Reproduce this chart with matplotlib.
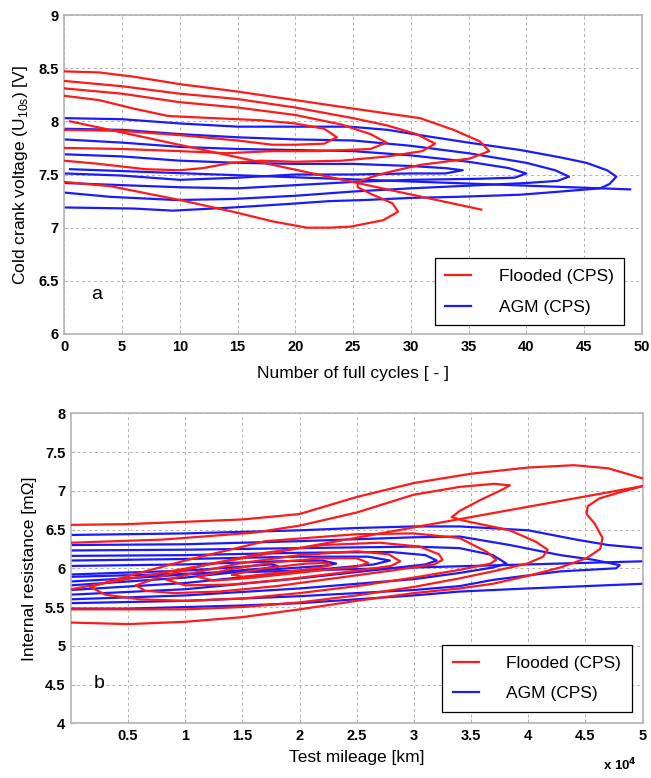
"""Contour comparison of flooded vs AGM batteries (CPS), two stacked panels."""
import matplotlib
matplotlib.use("Agg")
import matplotlib.pyplot as plt

plt.rcParams["font.family"] = ["Liberation Sans", "DejaVu Sans"]
plt.rcParams["mathtext.fontset"] = "custom"
plt.rcParams["mathtext.rm"] = "Liberation Sans"

RED = "#ff1a1a"
BLUE = "#1a1aff"

# ---------------- panel a: cold crank voltage vs number of full cycles ----------------
# contour lines, (cycles, volts)
FLOODED_A_1 = [(0, 8.47), (3, 8.46), (6, 8.42), (10, 8.35), (15, 8.28), (20, 8.2), (25, 8.12),
               (30.8, 8.03), (33.7, 7.92), (36, 7.81), (36.8, 7.72), (35.1, 7.65), (30.8, 7.59),
               (28, 7.52), (26.7, 7.48), (25.4, 7.43), (25.4, 7.38), (26.7, 7.31), (28.4, 7.23),
               (28.9, 7.15), (27.6, 7.07), (24.8, 7.01), (23, 7.0), (21, 7.0), (18, 7.06),
               (14.6, 7.15), (10, 7.26), (4, 7.39), (0, 7.43)]
FLOODED_A_2 = [(0, 8.38), (5, 8.33), (10, 8.26), (15, 8.21), (20, 8.13), (25, 8.03), (28, 7.96),
               (30.5, 7.88), (32.1, 7.79), (31, 7.72), (28, 7.67), (24, 7.63), (20, 7.62),
               (17, 7.63), (14.5, 7.61), (12, 7.56), (10, 7.54), (7, 7.55), (3, 7.6), (0, 7.63)]
FLOODED_A_3 = [(0, 8.31), (5, 8.26), (10, 8.18), (15, 8.13), (20, 8.06), (24, 7.97), (26.5, 7.88),
               (27.9, 7.8), (26.5, 7.74), (22, 7.72), (18, 7.72), (14, 7.7), (10, 7.72),
               (5, 7.74), (0, 7.75)]
FLOODED_A_4 = [(0, 8.24), (3, 8.2), (6, 8.12), (9, 8.05), (13, 8.03), (17, 8.01), (20, 7.98),
               (22.5, 7.93), (23.6, 7.85), (22.5, 7.79), (20, 7.78), (18, 7.78), (15, 7.82),
               (10, 7.87), (5, 7.91), (0, 7.92)]
FLOODED_A_FIT = [(0.5, 8.0), (36.1, 7.17)]

AGM_A_1 = [(0, 8.03), (5, 8.02), (10, 7.98), (15, 7.95), (24.7, 7.95), (28, 7.92), (30.8, 7.87),
           (35, 7.8), (39.5, 7.73), (43, 7.66), (45.2, 7.61), (47, 7.54), (47.8, 7.48), (47.2, 7.41),
           (46.4, 7.37), (43, 7.34), (39.5, 7.31), (34, 7.29), (30, 7.28), (26, 7.26), (23, 7.25),
           (19, 7.22), (14.6, 7.19), (9.4, 7.16), (6, 7.18), (0, 7.19)]
AGM_A_2 = [(0, 7.93), (5, 7.92), (10, 7.88), (15, 7.85), (20, 7.83), (25, 7.82), (30, 7.77),
           (35, 7.7), (40, 7.61), (42.5, 7.54), (43.7, 7.48), (42.7, 7.44), (40, 7.42), (36, 7.4),
           (30, 7.37), (25, 7.34), (20, 7.3), (14.6, 7.27), (9.7, 7.26), (4, 7.29), (0, 7.33)]
AGM_A_3 = [(0, 7.83), (5, 7.8), (10, 7.76), (15, 7.74), (20, 7.73), (25, 7.72), (30, 7.68),
           (35, 7.62), (38.5, 7.56), (40, 7.51), (39, 7.47), (36, 7.46), (30, 7.45), (25, 7.43),
           (20, 7.4), (15, 7.37), (10, 7.38), (5, 7.4), (0, 7.42)]
AGM_A_4 = [(0, 7.69), (5, 7.67), (10, 7.63), (15, 7.61), (20, 7.6), (25, 7.6), (30, 7.58),
           (33, 7.56), (34.5, 7.54), (33, 7.51), (30, 7.51), (25, 7.5), (20, 7.5), (15, 7.47),
           (10, 7.45), (5, 7.49), (0, 7.51)]
AGM_A_FIT = [(0.5, 7.55), (49, 7.36)]

# ---------------- panel b: internal resistance vs test mileage (x 1e4 km) ----------------
FLOODED_B_TOP = [(0, 6.56), (0.5, 6.57), (1, 6.6), (1.5, 6.63), (2, 6.7), (2.5, 6.92), (3, 7.1),
                 (3.5, 7.22), (4, 7.3), (4.4, 7.33), (4.7, 7.29), (5, 7.16)]
FLOODED_B_BOTTOM = [(0, 5.3), (0.5, 5.28), (1, 5.31), (1.5, 5.37), (2, 5.47), (2.5, 5.58),
                    (3, 5.68), (3.4, 5.74), (3.69, 5.8), (3.99, 5.9), (4.28, 6.01), (4.51, 6.13),
                    (4.63, 6.25), (4.65, 6.39), (4.58, 6.58), (4.51, 6.7), (4.52, 6.8),
                    (4.62, 6.9), (4.8, 6.98), (5, 7.06)]
FLOODED_B_2 = [(0, 6.33), (0.8, 6.37), (1.6, 6.46), (2, 6.55), (2.5, 6.72), (3, 6.95), (3.4, 7.05),
               (3.7, 7.09), (3.84, 7.07), (3.78, 7.02), (3.58, 6.88), (3.4, 6.74), (3.33, 6.66),
               (3.45, 6.61), (3.84, 6.49), (4.07, 6.34), (4.17, 6.24), (4.13, 6.15), (3.99, 6.06),
               (3.69, 5.96), (3.4, 5.87), (3, 5.76), (2.5, 5.65), (2, 5.56), (1.5, 5.5),
               (1, 5.47), (0.5, 5.47), (0, 5.47)]
FLOODED_B_3 = [(0.17, 5.76), (0.5, 5.9), (1, 6.1), (1.7, 6.35), (2.5, 6.44), (3, 6.45), (3.4, 6.39),
               (3.64, 6.21), (3.72, 6.11), (3.67, 6.06), (3.4, 5.98), (3, 5.88), (2.5, 5.77),
               (2, 5.68), (1.5, 5.61), (1, 5.58), (0.6, 5.6), (0.3, 5.66), (0.17, 5.76)]
FLOODED_B_4 = [(0.57, 5.78), (0.8, 5.9), (1.2, 6.05), (1.7, 6.2), (2.2, 6.3), (2.7, 6.33),
               (3.05, 6.28), (3.22, 6.18), (3.25, 6.11), (3.18, 6.05), (2.8, 5.97), (2.3, 5.87),
               (1.8, 5.77), (1.3, 5.7), (0.9, 5.68), (0.65, 5.71), (0.57, 5.78)]
FLOODED_B_5 = [(0.84, 5.85), (1.1, 5.95), (1.5, 6.07), (2, 6.17), (2.5, 6.22), (2.78, 6.18),
               (2.88, 6.09), (2.8, 6.03), (2.4, 5.95), (1.9, 5.86), (1.4, 5.79), (1.0, 5.78),
               (0.84, 5.85)]
FLOODED_B_6 = [(1.11, 5.89), (1.4, 5.99), (1.8, 6.08), (2.2, 6.13), (2.5, 6.13), (2.6, 6.07),
               (2.5, 6.02), (2.1, 5.96), (1.6, 5.88), (1.25, 5.84), (1.11, 5.89)]
FLOODED_B_7 = [(1.41, 5.92), (1.7, 6.0), (2.05, 6.06), (2.25, 6.07), (2.27, 6.04), (2.15, 6.0),
               (1.8, 5.94), (1.5, 5.89), (1.41, 5.92)]
FLOODED_B_FIT = [(0, 5.73), (5, 7.06)]

AGM_B_TOP = [(0, 6.43), (0.5, 6.44), (1, 6.45), (1.5, 6.47), (2, 6.49), (2.5, 6.52), (3, 6.54),
             (3.4, 6.54), (4, 6.49), (4.42, 6.37), (4.7, 6.3), (5, 6.26)]
AGM_B_BOTTOM = [(0, 5.48), (0.5, 5.48), (1, 5.5), (1.5, 5.52), (2, 5.55), (2.5, 5.6), (3, 5.65),
                (3.4, 5.7), (4, 5.74), (4.5, 5.77), (5, 5.8)]
AGM_B_1 = [(0, 6.3), (1, 6.31), (2, 6.35), (3, 6.4), (3.4, 6.41), (3.84, 6.3), (4.28, 6.17),
           (4.57, 6.11), (4.8, 6.04), (4.77, 6.0), (4.28, 5.96), (3.69, 5.85), (3.4, 5.77),
           (3, 5.72), (2, 5.64), (1, 5.58), (0, 5.55)]
AGM_B_2 = [(0, 6.23), (1, 6.24), (2, 6.26), (3, 6.28), (3.4, 6.26), (3.69, 6.17), (3.81, 6.06),
           (3.69, 6.01), (3.4, 5.94), (3, 5.86), (2, 5.74), (1, 5.65), (0, 5.6)]
AGM_B_3 = [(0, 6.16), (1, 6.17), (2, 6.2), (2.8, 6.21), (3.1, 6.17), (3.2, 6.1), (3.1, 6.05),
           (2.8, 6.0), (2, 5.87), (1, 5.73), (0, 5.66)]
AGM_B_4 = [(0, 6.1), (1, 6.12), (2, 6.15), (2.6, 6.15), (2.79, 6.1), (2.65, 6.05), (2, 5.96),
           (1, 5.81), (0, 5.72)]
AGM_B_5 = [(0, 6.03), (1, 6.05), (1.8, 6.09), (2.2, 6.1), (2.32, 6.06), (2.2, 6.03), (1.5, 5.96),
           (1, 5.88), (0, 5.78)]
AGM_B_6 = [(0, 5.92), (1, 5.97), (1.5, 6.02), (1.75, 6.05), (1.81, 6.03), (1.7, 6.0), (1.2, 5.94),
           (0.5, 5.87), (0, 5.83)]
AGM_B_FIT = [(0, 5.89), (5, 6.09)]

A_XTICKS = [0, 5, 10, 15, 20, 25, 30, 35, 40, 45, 50]
A_YTICKS = [6, 6.5, 7, 7.5, 8, 8.5, 9]
B_XTICKS = [0.5, 1, 1.5, 2, 2.5, 3, 3.5, 4, 4.5, 5]
B_YTICKS = [4, 4.5, 5, 5.5, 6, 6.5, 7, 7.5, 8]


def draw(ax, lines, color, label):
    for i, pts in enumerate(lines):
        xs, ys = zip(*pts)
        ax.plot(xs, ys, color=color, lw=1.6, solid_joinstyle="round",
                label=label if i == 0 else None, zorder=3 if color == RED else 2)


def style(ax, xticks, yticks, xlim, ylim):
    ax.set_xlim(*xlim)
    ax.set_ylim(*ylim)
    ax.set_xticks(xticks)
    ax.set_yticks(yticks)
    ax.set_xticklabels([f"{t:g}" for t in xticks], fontweight="bold", fontsize=10.5)
    ax.set_yticklabels([f"{t:g}" for t in yticks], fontweight="bold", fontsize=10.5)
    ax.grid(True, ls=(0, (3, 3)), color="#b0b0b0", lw=0.7)
    for s in ax.spines.values():
        s.set_color("#b4b4b4")
        s.set_linewidth(1.2)
    ax.tick_params(direction="in", length=3, color="#b4b4b4", pad=4)
    leg = ax.legend(loc="lower right", fancybox=False, framealpha=1, edgecolor="black",
                    fontsize=12.5, handlelength=1.5, handletextpad=1.6, labelspacing=0.9,
                    borderpad=0.6, borderaxespad=0)
    leg.get_frame().set_linewidth(0.9)
    return leg


fig = plt.figure(figsize=(6.51, 7.78), dpi=100)
ax_a = fig.add_axes([0.0988, 0.5707, 0.887, 0.410])
ax_b = fig.add_axes([0.109, 0.0703, 0.878, 0.3985])

draw(ax_a, [FLOODED_A_1, FLOODED_A_2, FLOODED_A_3, FLOODED_A_4, FLOODED_A_FIT], RED, "Flooded (CPS)")
draw(ax_a, [AGM_A_1, AGM_A_2, AGM_A_3, AGM_A_4, AGM_A_FIT], BLUE, "AGM (CPS)")
leg_a = style(ax_a, A_XTICKS, A_YTICKS, (0, 50), (6, 9))
leg_a.set_bbox_to_anchor((0.97, 0.028), transform=ax_a.transAxes)
ax_a.set_xlabel("Number of full cycles [ - ]", fontsize=12.5, labelpad=9)
ax_a.set_ylabel(r"Cold crank voltage (U$_{\mathregular{10s}}$) [V]", fontsize=12.5, labelpad=6)
ax_a.text(2.8, 6.37, "a", fontsize=14, ha="center", va="center")

draw(ax_b, [FLOODED_B_TOP, FLOODED_B_BOTTOM, FLOODED_B_2, FLOODED_B_3, FLOODED_B_4,
            FLOODED_B_5, FLOODED_B_6, FLOODED_B_7, FLOODED_B_FIT], RED, "Flooded (CPS)")
draw(ax_b, [AGM_B_TOP, AGM_B_BOTTOM, AGM_B_1, AGM_B_2, AGM_B_3, AGM_B_4, AGM_B_5, AGM_B_6,
            AGM_B_FIT], BLUE, "AGM (CPS)")
leg_b = style(ax_b, B_XTICKS, B_YTICKS, (0, 5), (4, 8))
leg_b.set_bbox_to_anchor((0.981, 0.037), transform=ax_b.transAxes)
ax_b.set_xlabel("Test mileage [km]", fontsize=12.5, labelpad=5)
ax_b.set_ylabel("Internal resistance [m\u03a9]", fontsize=12.5, labelpad=6)
ax_b.text(0.25, 4.52, "b", fontsize=14, ha="center", va="center")
ax_b.text(0.99, -0.135, r"x 10$^{\mathbf{4}}$", transform=ax_b.transAxes, ha="right", va="center",
          fontsize=9.5, fontweight="bold")

fig.savefig("out.png", dpi=100)
